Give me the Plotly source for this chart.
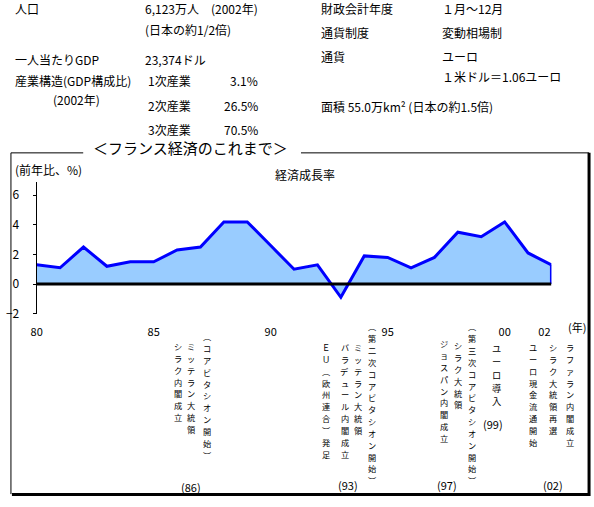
import plotly.graph_objects as go

W, H = 594, 507
FONT = "Noto Sans CJK JP"

# ---------------- data ----------------
years = list(range(1980, 2003))
growth = [1.3, 1.1, 2.5, 1.2, 1.5, 1.5, 2.3, 2.5, 4.2, 4.2, 2.6, 1.0,
          1.3, -0.9, 1.9, 1.8, 1.1, 1.8, 3.5, 3.2, 4.2, 2.1, 1.3]
xtick_vals = [1980, 1985, 1990, 1995, 2000, 2001.7]
xtick_text = ["80", "85", "90", "95", "00", "02"]
ytick_vals = [-2, 0, 2, 4, 6]

info_left = [("人口", "6,123万人　(2002年)"), ("", "(日本の約1/2倍)"),
             ("一人当たりGDP", "23,374ドル")]
industry = [("1次産業", "3.1%"), ("2次産業", "26.5%"), ("3次産業", "70.5%")]
info_right = [("財政会計年度", "１月～12月"), ("通貨制度", "変動相場制"),
              ("通貨", "ユーロ"), ("", "１米ドル＝1.06ユーロ")]
area_text = "面積 55.0万km² (日本の約1.5倍)"

# event columns (vertical Japanese text), columns listed right-to-left
events = {
    "(86)": ["︵コアビタシオン開始︶", "ミッテラン大統領", "シラク内閣成立"],
    "(93)": ["︵第二次コアビタシオン開始︶", "ミッテラン大統領", "バラデュール内閣成立", "ＥＵ︵欧州連合︶発足"],
    "(97)": ["︵第三次コアビタシオン開始︶", "シラク大統領", "ジョスパン内閣成立"],
    "(99)": ["ユーロ導入"],
    "(02)": ["ラファラン内閣成立", "シラク大統領再選", "ユーロ現金流通開始"],
}

# ---------------- helpers ----------------
def px(x):
    return x / W

def py(y):
    return 1 - y / H

annotations = []

def txt(s, x, y, size=12, anchor="left", color="black"):
    annotations.append(dict(text=s, x=px(x), y=py(y), xref="paper", yref="paper",
                            xanchor=anchor, yanchor="middle", showarrow=False,
                            font=dict(family=FONT, size=size, color=color)))

def vcol(s, x, y0, step=12.0):
    size = min(9.5, step / 1.46)
    for i, ch in enumerate(s):
        annotations.append(dict(text=ch, x=px(x), y=py(y0 + i * step),
                                xref="paper", yref="paper", xanchor="center", yanchor="middle",
                                showarrow=False, borderpad=0,
                                font=dict(family=FONT, size=size, color="black")))

# ---------------- top info text ----------------
txt(info_left[0][0], 7, 9)
txt(info_left[0][1], 138, 9)
txt(info_left[1][1], 138, 30)
txt(info_left[2][0], 7, 60)
txt(info_left[2][1], 138, 60)
txt("産業構造(GDP構成比)", 7, 82)
txt("(2002年)", 45, 101)
for (name, val), y in zip(industry, [82, 107, 131]):
    txt(name, 141, y)
    txt(val, 257, y, anchor="right")
for (name, val), y in zip(info_right, [9, 33, 57, 78]):
    if name:
        txt(name, 316, y)
    txt(val, 438, y)
txt(area_text, 316, 108)

# ---------------- chart titles ----------------
txt("＜フランス経済のこれまで＞", 186, 150, size=15, anchor="center")
txt("(前年比、%)", 7, 172)
txt("経済成長率", 302, 177, anchor="center")
txt("(年)", 577, 332, size=11, anchor="center")

# ---------------- event annotations ----------------
layout_events = {
    "(86)": dict(cols=[(203, 341), (187, 351), (174, 351)], label=(187, 494)),
    "(93)": dict(cols=[(370, 331), (356, 352), (342, 352), (323, 352)], label=(345, 492)),
    "(97)": dict(cols=[(471, 331), (457, 350), (442, 348)], label=(445, 492)),
    "(99)": dict(cols=[(495, 353)], label=(492, 430), step=13.5),
    "(02)": dict(cols=[(570, 352), (553, 352), (532, 352)], label=(553, 492)),
}
for key, cols in events.items():
    spec = layout_events[key]
    for s, (cx, cy) in zip(cols, spec["cols"]):
        vcol(s, cx, cy, step=spec.get("step", 12.0))
    lx, ly = spec["label"]
    txt(key, lx, ly, size=11, anchor="center")

# ---------------- frame shapes ----------------
shapes = [
    dict(type="line", xref="paper", yref="paper", x0=px(5), x1=px(5), y0=py(155), y1=py(501),
         line=dict(color="black", width=1)),
    dict(type="line", xref="paper", yref="paper", x0=px(5), x1=px(78), y0=py(155), y1=py(155),
         line=dict(color="black", width=1)),
    dict(type="line", xref="paper", yref="paper", x0=px(298), x1=px(589), y0=py(155), y1=py(155),
         line=dict(color="black", width=1)),
    dict(type="line", xref="paper", yref="paper", x0=px(589), x1=px(589), y0=py(155), y1=py(503),
         line=dict(color="black", width=3)),
    dict(type="line", xref="paper", yref="paper", x0=px(6), x1=px(590), y0=py(501.5), y1=py(501.5),
         line=dict(color="black", width=3)),
    # zero line drawn above the area
    dict(type="line", xref="x", yref="y", x0=years[0], x1=years[-1], y0=0, y1=0,
         layer="above", line=dict(color="black", width=3)),
]

# ---------------- figure ----------------
fig = go.Figure()
fig.add_trace(go.Scatter(x=years, y=growth, mode="lines", fill="tozeroy",
                         fillcolor="#99CCFF", line=dict(color="#0000FF", width=3),
                         hoverinfo="x+y", showlegend=False))
fig.add_trace(go.Scatter(x=[years[-1], years[-1]], y=[growth[-1], 0], mode="lines",
                         line=dict(color="#0000FF", width=3), hoverinfo="skip",
                         showlegend=False))

fig.update_layout(
    width=W, height=H, autosize=False,
    margin=dict(l=0, r=0, t=0, b=0),
    paper_bgcolor="white", plot_bgcolor="rgba(0,0,0,0)",
    font=dict(family=FONT, size=12, color="black"),
    annotations=annotations, shapes=shapes, showlegend=False,
    xaxis=dict(domain=[px(31), px(551)], range=[1980, 2002], showgrid=False,
               zeroline=False, showline=False, ticks="",
               tickvals=xtick_vals, ticktext=xtick_text,
               tickfont=dict(family=FONT, size=11), ticklabelstandoff=10, fixedrange=True),
    yaxis=dict(domain=[py(318), py(184.5)], range=[-2, 6.9], showgrid=False,
               zeroline=False, showline=True, linecolor="black", linewidth=1,
               ticks="outside", ticklen=3, tickcolor="black", tickwidth=1,
               tickvals=ytick_vals, tickfont=dict(family=FONT, size=12),
               ticklabelstandoff=11, fixedrange=True),
)

fig.write_html("out.html")
